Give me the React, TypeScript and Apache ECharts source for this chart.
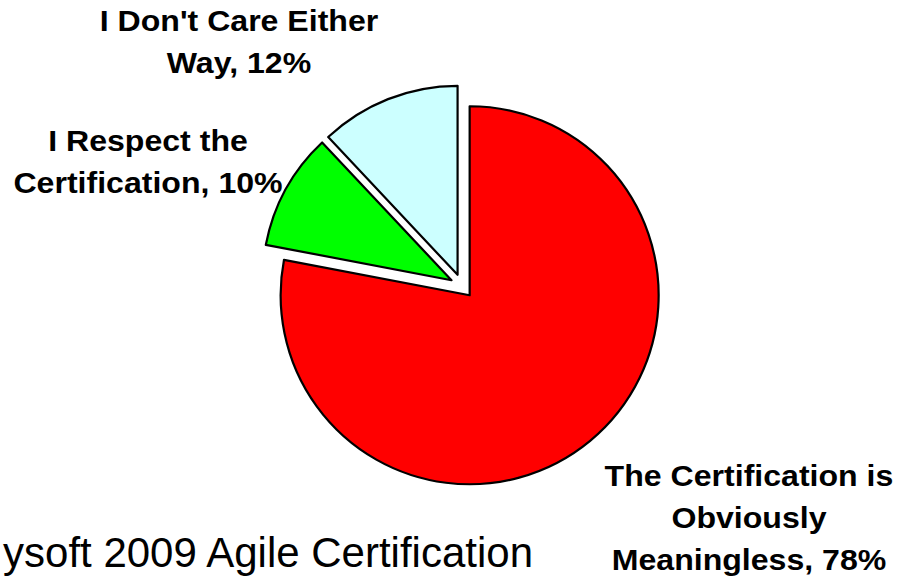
import React, { useEffect, useRef } from "react";
import * as echarts from "echarts";

const categories = [
  "The Certification is Obviously Meaningless",
  "I Respect the Certification",
  "I Don't Care Either Way",
];
const values = [78, 10, 12];
const wrappedNames = [
  "The Certification is\nObviously\nMeaningless",
  "I Respect the\nCertification",
  "I Don't Care Either\nWay",
];
const colors = ["#FF0000", "#00FF00", "#CCFFFF"];
const labelCenters = [
  [749, 518],
  [148, 162],
  [239, 42],
];
const footerText = "ysoft 2009 Agile Certification";

export default function App() {
  const ref = useRef<HTMLDivElement>(null);
  useEffect(() => {
    if (!ref.current) return;
    const chart = echarts.init(ref.current, undefined, { renderer: "svg" });
    const font = "'Liberation Sans', Arial, sans-serif";
    const total = values.reduce((a, b) => a + b, 0);
    const labels = values.map((v, i) => ({
      type: "text",
      x: labelCenters[i][0],
      y: labelCenters[i][1],
      scaleX: 1.07,
      z: 10,
      style: {
        text: wrappedNames[i] + ", " + Math.round((v / total) * 100) + "%",
        fontFamily: font,
        fontWeight: "bold",
        fontSize: 30,
        lineHeight: 42,
        fill: "#000",
        align: "center",
        verticalAlign: "middle",
      },
    }));
    chart.setOption({
      animation: false,
      backgroundColor: "#ffffff",
      series: [
        {
          type: "pie",
          center: [462, 286],
          radius: 189,
          startAngle: 90,
          clockwise: true,
          selectedMode: "multiple",
          selectedOffset: 12,
          emphasis: { disabled: true },
          label: { show: false },
          labelLine: { show: false },
          data: categories.map((name, i) => ({
            name,
            value: values[i],
            selected: true,
            itemStyle: { color: colors[i], borderColor: "#000", borderWidth: 2.2 },
            select: {
              itemStyle: { color: colors[i], borderColor: "#000", borderWidth: 2.2 },
            },
          })),
        },
      ],
      graphic: [
        ...labels,
        {
          type: "text",
          x: 533,
          y: 552,
          style: {
            text: footerText,
            fontFamily: font,
            fontSize: 42,
            fill: "#000",
            align: "right",
            verticalAlign: "middle",
          },
        },
      ],
    });
    return () => chart.dispose();
  }, []);
  return (
    <div
      ref={ref}
      style={{ position: "fixed", left: 0, top: 0, width: 902, height: 581 }}
    />
  );
}
